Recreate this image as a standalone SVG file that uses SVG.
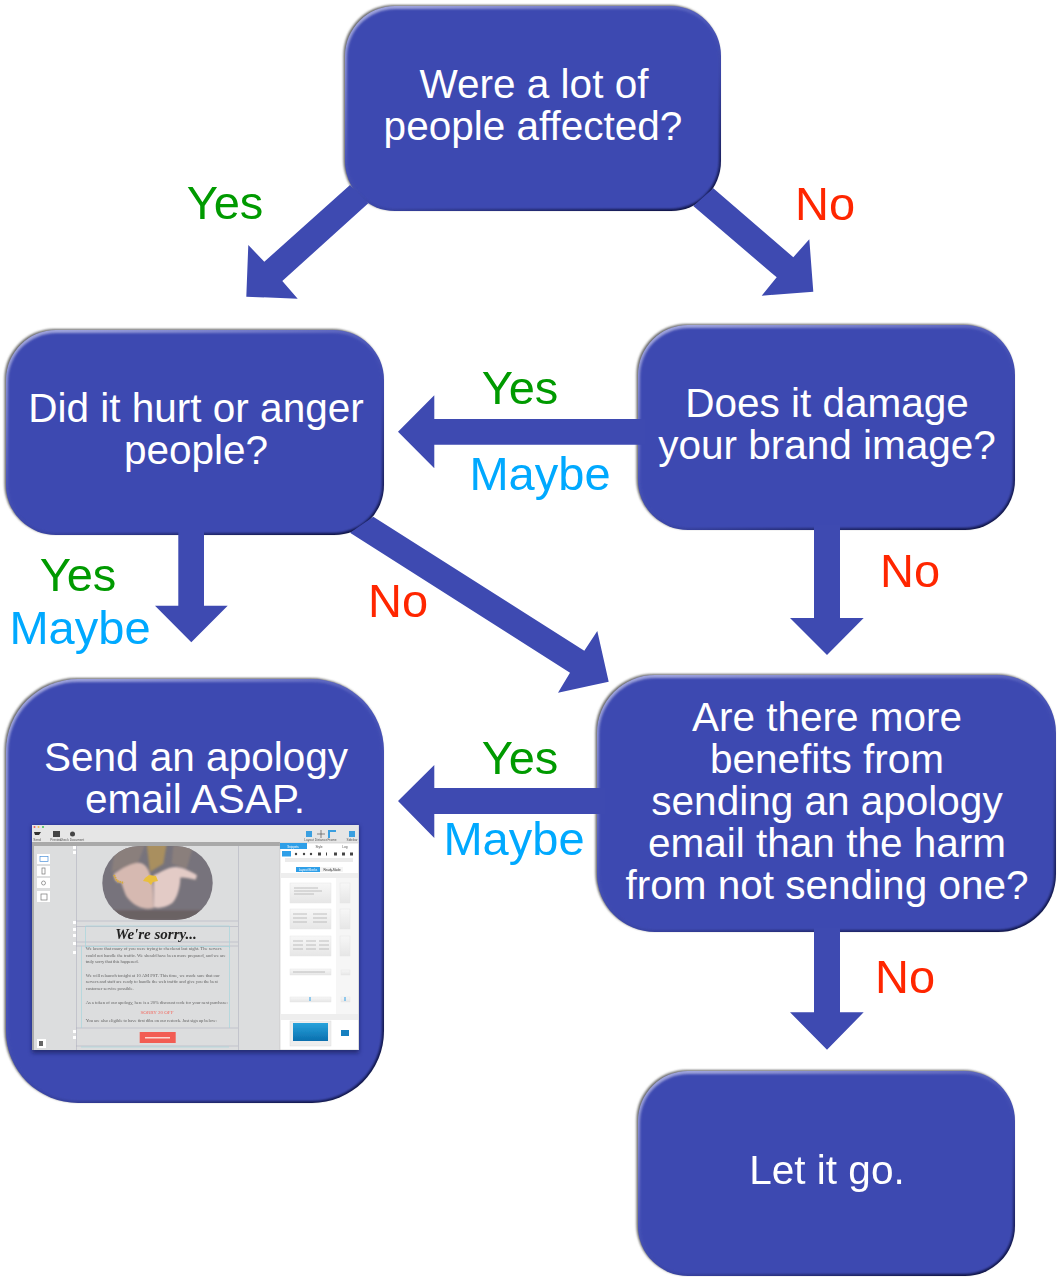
<svg xmlns="http://www.w3.org/2000/svg" width="1062" height="1283" viewBox="0 0 1062 1283">
<style>
text{font-family:"Liberation Sans",Arial,sans-serif;text-anchor:middle}
.t{font-size:40.500px;fill:#fff}
.l{font-size:47px}
.yes{fill:#009a00}.no{fill:#ff2600}.maybe{fill:#00a9ff}
.sh{fill:#666;filter:url(#blur);transform:translate(-1.500px,-1px)}
.dk{fill:url(#edge)}
.body{fill:#3e4ab1;filter:url(#inner)}
.arrow{fill:#3e4ab1}
.s{font-family:"Liberation Serif",serif;font-size:4.700px;fill:#666;text-anchor:start}
.u{font-size:3.200px;fill:#555}
.g{fill:none;stroke:#aab;stroke-width:.5}
.c{fill:none;stroke:#a6d5dc;stroke-width:.7}
.p{fill:url(#thumb);stroke:#e6e6e6;stroke-width:.5}
</style>
<defs>
<filter id="blur" x="-5%" y="-5%" width="110%" height="110%"><feGaussianBlur stdDeviation="1"/></filter>
<filter id="inner" x="-5%" y="-5%" width="110%" height="110%"><feGaussianBlur stdDeviation="1.300"/></filter>
<filter id="fine" x="-2%" y="-2%" width="104%" height="104%"><feGaussianBlur stdDeviation=".35"/></filter>
<filter id="hand" x="-10%" y="-10%" width="120%" height="120%"><feGaussianBlur stdDeviation="3"/></filter>
<filter id="drop" x="-5%" y="-5%" width="110%" height="110%"><feGaussianBlur stdDeviation="2"/></filter>
<linearGradient id="edge" x1=".15" y1="0" x2=".85" y2="1">
<stop offset="0" stop-color="#9ea3dc"/><stop offset=".45" stop-color="#4a55b8"/><stop offset=".62" stop-color="#3a45a6"/><stop offset="1" stop-color="#0f1445"/>
</linearGradient>
<linearGradient id="blue" x1="0" y1="0" x2="0" y2="1"><stop offset="0" stop-color="#28a3dc"/><stop offset="1" stop-color="#0a6fae"/></linearGradient>
<linearGradient id="thumb" x1="0" y1="0" x2="0" y2="1"><stop offset="0" stop-color="#f7f7f7"/><stop offset="1" stop-color="#e6e6e6"/></linearGradient>
<clipPath id="photo"><rect x="102.300" y="846" width="110.400" height="74" rx="37" ry="37"/></clipPath>
<clipPath id="shot"><rect x="32" y="825" width="326.700" height="225"/></clipPath>
</defs>

<g id="node-affected">
<rect class="sh" x="345" y="6" width="376" height="205" rx="50"/>
<rect class="dk" x="345" y="6" width="376" height="205" rx="50"/>
<rect class="body" x="347" y="9" width="372" height="200" rx="48"/>
<text class="t" x="534" y="98">Were a lot of</text>
<text class="t" x="533" y="140">people affected?</text>
</g>
<g id="node-hurt">
<rect class="sh" x="6" y="330" width="378" height="205" rx="50"/>
<rect class="dk" x="6" y="330" width="378" height="205" rx="50"/>
<rect class="body" x="8" y="333" width="374" height="200" rx="48"/>
<text class="t" x="196" y="422">Did it hurt or anger</text>
<text class="t" x="196" y="464">people?</text>
</g>
<g id="node-brand">
<rect class="sh" x="638" y="325" width="377" height="205" rx="50"/>
<rect class="dk" x="638" y="325" width="377" height="205" rx="50"/>
<rect class="body" x="640" y="328" width="373" height="200" rx="48"/>
<text class="t" x="827" y="417">Does it damage</text>
<text class="t" x="827" y="459">your brand image?</text>
</g>
<g id="node-send">
<rect class="sh" x="6" y="679" width="378" height="424" rx="72"/>
<rect class="dk" x="6" y="679" width="378" height="424" rx="72"/>
<rect class="body" x="8" y="682" width="374" height="419" rx="70"/>
<text class="t" x="196" y="771">Send an apology</text>
<text class="t" x="195" y="813">email ASAP.</text>
<rect x="32" y="826" width="327" height="227" fill="#101540" opacity=".55" filter="url(#drop)"/>
<g id="screenshot" clip-path="url(#shot)">
<g filter="url(#fine)">
<rect x="32" y="825" width="326.700" height="225" fill="#dcddde"/>
<rect x="32" y="825" width="326.700" height="18" fill="#e6e6e6"/>
<rect x="32" y="842" width="248" height="4" fill="#a9a9a9"/>
<rect x="32" y="846" width="2" height="204" fill="#aaa"/>
<circle cx="34.500" cy="827" r="1" fill="#f0605a"/><circle cx="38.500" cy="827" r="1" fill="#f5bd4f"/><circle cx="43" cy="827" r="1" fill="#3fbf4f"/>
<path d="M34 832h7l-2 3h-4z" fill="#333"/><rect x="53" y="831" width="7" height="6" fill="#444"/><circle cx="72.500" cy="834" r="2.500" fill="#444"/>
<text class="u" x="37" y="841">Send</text><text class="u" x="56" y="841">Preview</text><text class="u" x="72" y="841">Check Document</text>
<rect x="306" y="831" width="6" height="6" fill="#3b9fe0"/><path d="M321 830v8M317 834h8" stroke="#555" stroke-width=".7"/><path d="M329 838v-7h7" fill="none" stroke="#3b9fe0" stroke-width="2"/><rect x="349" y="831" width="6" height="6" fill="#3b9fe0"/>
<text class="u" x="309" y="841">Layout</text><text class="u" x="321" y="841">Distance</text><text class="u" x="332" y="841">Frame</text><text class="u" x="352" y="841">Sidebar</text>
<rect x="37" y="854" width="13" height="10" fill="#fff"/><rect x="40" y="856.500" width="8" height="5" fill="none" stroke="#4a90d9" stroke-width=".7"/>
<rect x="37" y="866" width="13" height="10" fill="#fff"/><rect x="42" y="868" width="3" height="6" fill="none" stroke="#777" stroke-width=".7"/>
<rect x="37" y="878" width="13" height="10" fill="#fff"/><circle cx="43.500" cy="883" r="2" fill="none" stroke="#777" stroke-width=".7"/>
<rect x="37" y="891" width="13" height="11" fill="#fff"/><rect x="41" y="894" width="6" height="6" fill="none" stroke="#777" stroke-width=".7"/>
<rect x="37" y="1039" width="9" height="9" fill="#fff"/><path d="M39 1041h4v5h-4z" fill="#666"/>
<path class="g" d="M76.500 846v204M238.500 846v204M76 921h162M76 926.500h162M76 942h162M76 946h162M76 1028h162M76 1046h162"/>
<path class="c" d="M85.500 926v22M229.500 926v22M85.500 926h144M85 946.500h144M81.500 946v82M229.500 946v82M81 1047h148"/>
<g fill="#fff"><rect x="73" y="846" width="3" height="3"/><rect x="73" y="851" width="3" height="3"/><rect x="73" y="921" width="3" height="3"/><rect x="73" y="928" width="3" height="3"/><rect x="73" y="934" width="3" height="3"/><rect x="73" y="942" width="3" height="3"/><rect x="73" y="951" width="3" height="3"/><rect x="73" y="1030" width="3" height="3"/><rect x="73" y="1036" width="3" height="3"/></g>
<g clip-path="url(#photo)">
<rect x="102" y="846" width="111" height="74" fill="#77737b"/>
<g filter="url(#hand)" transform="translate(95 842) scale(.3333)">
<path d="M60 10h90l-20 50-80 30zM235 10h60l-20 70-45-15z" fill="#8a7f7c"/>
<path d="M155 5h60l-10 60-40 25z" fill="#a98f5e"/>
<path d="M40 205h280v30H40z" fill="#6b6264"/>
<path d="M56 96c25-18 55-34 75-34 25 0 38 35 42 68l3 68c-25 6-55 0-80-32-8-12-14-38-18-45-8 2-20 0-22-25z" fill="#d6b9b1"/>
<path d="M176 100c22-10 45-26 68-25 20 2 50 15 62 25l-4 13c-18-3-34-8-46-6 0 25-8 60-24 76-20 14-46 18-56 12z" fill="#e3cbc6"/>
</g>
<path d="M145 878l4-3 7 1 2 5-5 1-2 3-3-3-5-1z" fill="#e9bf3e"/>
<path d="M114 875l3 6 7 2" fill="none" stroke="#d6a93a" stroke-width="2" stroke-dasharray="1.500 .8"/>
</g>
<text x="156" y="939" style="font-family:'Liberation Serif',serif;font-style:italic;font-weight:bold;font-size:15px;fill:#222">We're sorry...</text>
<text class="s" x="85.700" y="950" textLength="136">We know that many of you were trying to checkout last night. The servers</text>
<text class="s" x="85.700" y="956.700" textLength="140">could not handle the traffic. We should have been more prepared, and we are</text>
<text class="s" x="85.700" y="963.300" textLength="53">truly sorry that this happened.</text>
<text class="s" x="85.700" y="976.700" textLength="134">We will relaunch tonight at 10 AM PST. This time, we made sure that our</text>
<text class="s" x="85.700" y="983.300" textLength="132">servers and staff are ready to handle the web traffic and give you the best</text>
<text class="s" x="85.700" y="990" textLength="48">customer service possible.</text>
<text class="s" x="85.700" y="1004" textLength="142">As a token of our apology, here is a 20% discount code for your next purchase:</text>
<text x="157" y="1014" style="font-family:'Liberation Serif',serif;font-size:5px;fill:#f26a60">SORRY 20 OFF</text>
<text class="s" x="85.700" y="1022" textLength="131">You are also eligible to have first dibs on our restock. Just sign up below:</text>
<rect x="139.700" y="1032" width="36" height="11" fill="#f25c52"/>
<rect x="145" y="1037" width="25" height="1.500" fill="#fbd5d0"/>
<rect x="280" y="843" width="79" height="207" fill="#fff"/>
<rect x="280" y="843" width="78.700" height="207" fill="none" stroke="#bbb" stroke-width=".5"/>
<rect x="280" y="843" width="27" height="6" fill="#2f9fe8"/><text x="293" y="847.500" style="font-size:3px;fill:#fff">Snippets</text>
<text class="u" x="319" y="847.500">Style</text><text class="u" x="345" y="847.500">Log</text>
<rect x="282" y="851" width="9" height="5.500" fill="#2f9fe8"/>
<g fill="#444"><circle cx="296" cy="854" r="1.200"/><circle cx="304" cy="854" r="1.200"/><circle cx="311" cy="854" r="1.200"/><rect x="318" y="852.500" width="3" height="3"/><rect x="326" y="852.500" width="1" height="3"/><rect x="334" y="852.500" width="3" height="3"/><rect x="342" y="852.500" width="3" height="3"/><rect x="350" y="852.500" width="3" height="3"/></g>
<rect x="285" y="858" width="68" height="4" fill="#ddd" opacity=".6"/>
<rect x="296" y="867" width="24" height="5" fill="#2f9fe8"/><rect x="320" y="867" width="23" height="5" fill="#f4f4f4"/>
<text x="308" y="870.800" style="font-size:3px;fill:#fff">Layout Blocks</text><text x="332" y="870.800" style="font-size:3px;fill:#333">Ready-Made</text>
<rect x="281" y="873" width="77" height="5" fill="#eee"/>
<rect x="336" y="878" width="22" height="136" fill="#f6f6f6"/>
<rect class="p" x="290" y="883" width="41" height="20"/><rect class="p" x="290" y="909" width="41" height="20"/><rect class="p" x="290" y="936" width="41" height="20"/><rect class="p" x="290" y="969" width="41" height="6"/><rect class="p" x="290" y="997" width="41" height="5"/>
<rect class="p" x="340" y="883" width="10" height="20"/><rect class="p" x="340" y="909" width="10" height="20"/><rect class="p" x="340" y="936" width="10" height="20"/><rect class="p" x="341" y="970" width="9" height="5"/><rect class="p" x="341" y="997" width="9" height="5"/>
<g stroke="#aaa" stroke-width=".7"><path d="M294 888h24M294 891h28M294 894h20M293 914h14M313 914h14M293 918h14M313 918h14M293 922h14M313 922h14M293 941h10M306 941h10M319 941h10M293 945h10M306 945h10M319 945h10M293 949h10M306 949h10M319 949h10M293 972h32"/></g>
<path d="M310 997v4M345 997v4" stroke="#2f9fe8" stroke-width="1"/>
<rect x="281" y="1014" width="77" height="6" fill="#eee"/>
<rect x="290" y="1021" width="41" height="25" fill="#eee" stroke="#ddd" stroke-width=".5"/>
<rect x="293" y="1023" width="35" height="18" fill="url(#blue)"/>
<rect x="341" y="1030" width="8" height="6" fill="#1780c0"/>
</g>
</g>
</g>
<g id="node-benefits">
<rect class="sh" x="597" y="675" width="459" height="257" rx="58"/>
<rect class="dk" x="597" y="675" width="459" height="257" rx="58"/>
<rect class="body" x="599" y="678" width="455" height="252" rx="56"/>
<text class="t" x="827" y="731">Are there more</text>
<text class="t" x="827" y="773">benefits from</text>
<text class="t" x="827" y="815">sending an apology</text>
<text class="t" x="827" y="857">email than the harm</text>
<text class="t" x="827" y="899">from not sending one?</text>
</g>
<g id="node-letgo">
<rect class="sh" x="638" y="1071" width="377" height="205" rx="50"/>
<rect class="dk" x="638" y="1071" width="377" height="205" rx="50"/>
<rect class="body" x="640" y="1074" width="373" height="200" rx="48"/>
<text class="t" x="827" y="1184">Let it go.</text>
</g>

<g id="connectors">
<polygon class="arrow" points="350,185 264.300,261.700 248.300,245 246.300,296.700 297.700,298.700 282.300,281 368.300,203.300"/>
<polygon class="arrow" points="713.300,188.300 793.300,257.300 809.300,239.300 813.300,291.700 761.700,295.700 776.700,277.300 693.300,206"/>
<polygon class="arrow" points="373.300,516.700 584.300,650.700 597.300,631 608.700,681.700 558,692.700 570,672.700 350,532.700"/>
<polygon class="arrow" points="645,419 434.300,419 434.300,395.300 398,431.700 434.300,468.300 434.300,444.700 645,444.700"/>
<polygon class="arrow" points="178.300,530 178.300,605.700 155,605.700 191.300,642.300 227.700,605.700 204,605.700 204,530"/>
<polygon class="arrow" points="814,525 814,618 790,618 827,655 863.700,618 840,618 840,525"/>
<polygon class="arrow" points="605,788 434.300,788 434.300,765 398,801 434.300,838 434.300,814 605,814"/>
<polygon class="arrow" points="814,928 814,1012.300 790,1012.300 827,1049.700 863.700,1012.300 840,1012.300 840,928"/>
</g>

<g id="labels">
<text class="l yes" x="225" y="219">Yes</text>
<text class="l no" x="825" y="220">No</text>
<text class="l yes" x="520" y="404">Yes</text>
<text class="l maybe" x="540" y="490">Maybe</text>
<text class="l yes" x="78" y="591">Yes</text>
<text class="l maybe" x="80" y="644">Maybe</text>
<text class="l no" x="398" y="617">No</text>
<text class="l no" x="910" y="587">No</text>
<text class="l yes" x="520" y="774">Yes</text>
<text class="l maybe" x="514" y="855">Maybe</text>
<text class="l no" x="905" y="993">No</text>
</g>
</svg>
